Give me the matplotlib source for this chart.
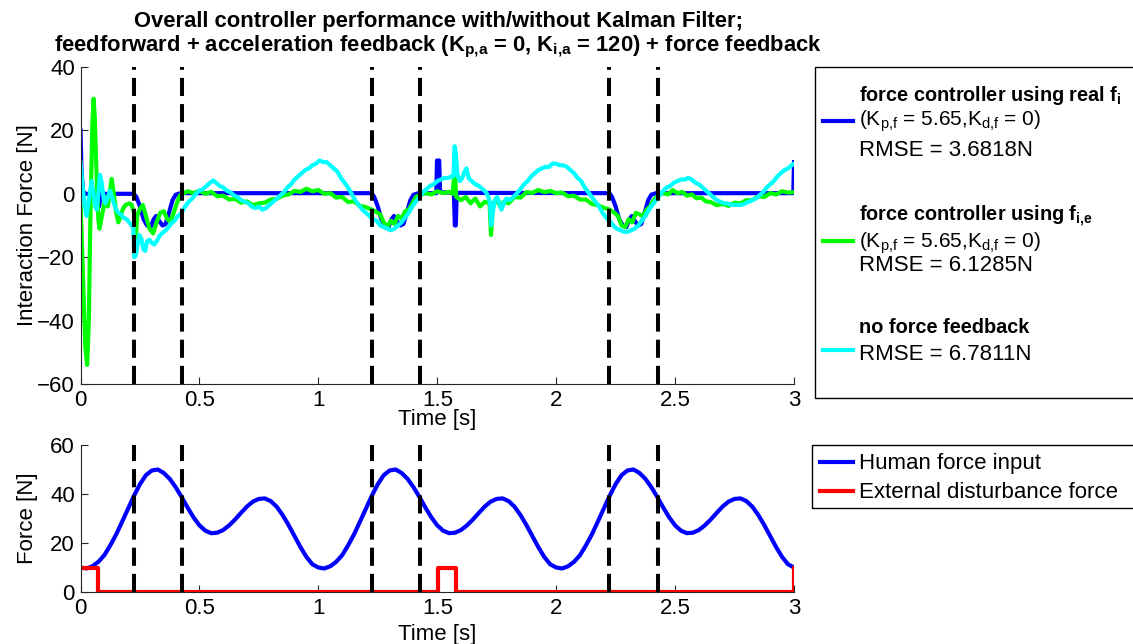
import numpy as np
import matplotlib
matplotlib.use("Agg")
import matplotlib.pyplot as plt
from matplotlib.lines import Line2D
from matplotlib.patches import Rectangle

plt.rcParams['font.family'] = ['Liberation Sans', 'DejaVu Sans']
plt.rcParams['font.size'] = 16
plt.rcParams['mathtext.fontset'] = 'custom'
plt.rcParams['mathtext.rm'] = 'Liberation Sans'
plt.rcParams['mathtext.it'] = 'Liberation Sans:italic'
plt.rcParams['mathtext.bf'] = 'Liberation Sans:bold'

# switching instants (dashed lines)
t_switch = [0.224, 0.427, 1.224, 1.427, 2.224, 2.427]

# interaction force, controller using real f_i  (t, F)
real_fi = np.array([
    (0.0, 20), (0.004, 8), (0.01, 1), (0.02, 0), (0.07, 0), (0.078, -4), (0.086, 0),
    (0.224, 0), (0.235, -1), (0.25, -4), (0.265, -8), (0.28, -10), (0.295, -10.5),
    (0.308, -8), (0.318, -7), (0.33, -8.5), (0.345, -10), (0.358, -9.5), (0.372, -6),
    (0.387, -2), (0.40, -0.3), (0.42, 0.2),
    (1.224, 0.2), (1.235, -1), (1.25, -4), (1.265, -8), (1.28, -10), (1.295, -10.5),
    (1.308, -8), (1.318, -7), (1.33, -8.5), (1.345, -10), (1.358, -9.5), (1.372, -6),
    (1.387, -2), (1.40, -0.3), (1.42, 0.2),
    (1.496, 0.2), (1.499, 10.5), (1.508, 10.5), (1.512, 0.5), (1.57, 0.3),
    (1.574, -10), (1.578, -10), (1.582, 0.3),
    (2.224, 0.2), (2.235, -1), (2.25, -4), (2.265, -8), (2.28, -10), (2.295, -10.5),
    (2.308, -8), (2.318, -7), (2.33, -8.5), (2.345, -10), (2.358, -9.5), (2.372, -6),
    (2.387, -2), (2.40, -0.3), (2.42, 0.2),
    (2.997, 0.2), (3.0, 10),
])

# interaction force, controller using estimated f_i,e
est_fie = np.array([
    (0.0, -2), (0.01, -25), (0.02, -48), (0.028, -54), (0.035, -40), (0.042, -5),
    (0.05, 22), (0.055, 30), (0.06, 24), (0.068, 5), (0.075, -8), (0.08, -11),
    (0.09, -7), (0.105, -1), (0.115, -4), (0.122, 0), (0.131, 4.7), (0.14, 0),
    (0.15, -6), (0.159, -9), (0.17, -6.5), (0.18, -4.5), (0.19, -3.5), (0.205, -3),
    (0.215, -3.5), (0.225, -6), (0.232, -15), (0.238, -7), (0.248, -5), (0.262, -3.5),
    (0.275, -7), (0.29, -11), (0.305, -12.5), (0.32, -9), (0.335, -6), (0.35, -5.5),
    (0.365, -8), (0.378, -9), (0.392, -6), (0.405, -3), (0.418, -0.5),
    (0.45, 0.8), (0.475, 0.2), (0.50, 1.0), (0.525, 0.0), (0.55, 0.6), (0.575, -0.8),
    (0.60, -0.6), (0.625, -1.8), (0.65, -1.6), (0.675, -2.8), (0.70, -2.4),
    (0.725, -3.6), (0.75, -3.0), (0.775, -2.8), (0.80, -1.8), (0.825, -1.6),
    (0.85, -0.6), (0.875, -0.2), (0.90, 0.9), (0.925, 0.6), (0.95, 1.6), (0.975, 0.8),
    (1.00, 1.2), (1.025, 0.0), (1.05, 0.2), (1.075, -1.2), (1.10, -1.0),
    (1.125, -2.6), (1.15, -2.4), (1.175, -3.8), (1.20, -4.2), (1.225, -5.0),
    (1.245, -5.8), (1.26, -6.5), (1.275, -9.0), (1.29, -10.5), (1.305, -8.5),
    (1.32, -9.5), (1.335, -7.0), (1.35, -7.8), (1.365, -5.5), (1.38, -5.0),
    (1.395, -3.0), (1.41, -1.0), (1.425, -0.5), (1.45, 0.3), (1.475, -0.2),
    (1.50, 0.8), (1.525, 0.2), (1.55, 0.6), (1.565, 0.0), (1.573, 8.0), (1.58, -1.0),
    (1.60, -2.0), (1.62, -1.0), (1.64, -3.0), (1.66, -1.5), (1.68, -4.0), (1.70, -2.5),
    (1.72, -3.0), (1.726, -13.0), (1.735, -3.0), (1.75, -2.0), (1.765, -4.0),
    (1.78, -2.5), (1.80, -3.0), (1.825, -1.0), (1.85, -1.2), (1.875, 0.5), (1.90, 0.3),
    (1.925, 1.2), (1.95, 0.5), (1.975, 0.9), (2.00, 0.2), (2.025, 0.4), (2.05, -0.8),
    (2.075, -0.6), (2.10, -1.8), (2.125, -1.8), (2.15, -3.2), (2.175, -3.6),
    (2.20, -4.4), (2.225, -5.0), (2.245, -6.0), (2.26, -7.0), (2.275, -10.0),
    (2.29, -10.5), (2.305, -8.0), (2.32, -9.0), (2.335, -6.0), (2.35, -6.5),
    (2.365, -7.0), (2.38, -5.0), (2.395, -4.0), (2.41, -2.0), (2.43, -0.5), (2.45, 0.3),
    (2.47, -0.2), (2.49, 1.2), (2.51, 0.2), (2.53, 0.6), (2.55, -0.6), (2.57, -0.2),
    (2.59, -1.4), (2.61, -1.2), (2.63, -2.4), (2.65, -2.6), (2.675, -3.6), (2.70, -3.2),
    (2.725, -3.8), (2.75, -2.8), (2.775, -3.0), (2.80, -2.0), (2.825, -2.0),
    (2.85, -0.8), (2.875, -1.0), (2.90, 0.2), (2.925, -0.2), (2.95, 0.8), (2.975, 0.4),
    (3.0, 0.5),
])

# interaction force without force feedback
no_ff = np.array([
    (0.0, 10), (0.008, 3), (0.018, -4), (0.026, -7), (0.035, -2), (0.047, 4),
    (0.055, 0), (0.062, -4), (0.068, -5), (0.075, 0), (0.082, 6), (0.09, 3),
    (0.098, -2), (0.105, -3), (0.115, -1), (0.124, 1), (0.132, -1), (0.14, -3),
    (0.15, -5), (0.159, -6), (0.17, -6.5), (0.18, -7.5), (0.194, -8), (0.205, -9),
    (0.215, -10), (0.222, -10.5), (0.226, -20), (0.232, -19.5), (0.24, -16),
    (0.247, -13), (0.255, -14), (0.265, -17.5), (0.272, -18), (0.28, -15),
    (0.29, -14.5), (0.30, -15.5), (0.31, -16), (0.32, -15), (0.335, -13), (0.35, -12),
    (0.365, -11), (0.38, -9.5), (0.395, -8.5), (0.41, -7), (0.425, -6), (0.44, -4),
    (0.455, -2.5), (0.47, -1.5), (0.485, 0), (0.50, 1), (0.515, 1.5), (0.53, 2.5),
    (0.545, 3.5), (0.558, 4.2), (0.57, 3.5), (0.585, 2.5), (0.60, 2), (0.615, 1),
    (0.63, 0.5), (0.645, -0.5), (0.66, -1), (0.675, -2), (0.69, -2.5), (0.705, -3),
    (0.72, -4), (0.735, -4.5), (0.75, -4), (0.765, -5), (0.78, -4.5), (0.795, -3.5),
    (0.81, -2.5), (0.825, -1.5), (0.84, -0.5), (0.855, 0.5), (0.87, 2), (0.885, 3),
    (0.90, 4.5), (0.915, 5.5), (0.93, 6.5), (0.945, 7.5), (0.96, 8), (0.975, 9),
    (0.99, 9.5), (1.005, 10.5), (1.02, 10), (1.035, 10), (1.05, 9), (1.065, 8),
    (1.08, 7), (1.095, 5), (1.11, 3.5), (1.125, 2), (1.14, 0), (1.155, -2),
    (1.17, -3.5), (1.185, -5), (1.20, -6), (1.215, -7), (1.23, -8), (1.245, -8.5),
    (1.26, -10), (1.275, -10.5), (1.29, -11), (1.305, -11.5), (1.32, -11),
    (1.335, -10), (1.35, -9), (1.365, -7.5), (1.38, -6), (1.395, -4), (1.41, -2.5),
    (1.425, -1), (1.44, 0.5), (1.455, 1.5), (1.47, 2.5), (1.485, 3), (1.50, 4),
    (1.515, 4.5), (1.53, 5), (1.545, 5), (1.56, 5.5), (1.568, 5.5), (1.573, 15),
    (1.578, 13), (1.585, 6), (1.595, 4), (1.605, 5), (1.615, 7), (1.623, 8),
    (1.632, 5), (1.645, 4), (1.66, 3), (1.675, 2.5), (1.69, 1.5), (1.705, 0.5),
    (1.715, -1), (1.722, -3), (1.727, -10), (1.733, -6), (1.742, -2), (1.752, -1),
    (1.762, -3), (1.77, -5), (1.78, -3), (1.791, -1.5), (1.805, -2), (1.82, -1),
    (1.833, 0), (1.85, 1.5), (1.865, 3), (1.88, 4), (1.895, 5.5), (1.91, 6.5),
    (1.925, 7.5), (1.94, 8), (1.955, 8.5), (1.97, 8.5), (1.985, 9.5), (2.0, 9.5),
    (2.015, 9), (2.03, 9), (2.045, 8.5), (2.06, 7.5), (2.075, 6.5), (2.09, 5),
    (2.105, 4), (2.12, 2), (2.135, 0.5), (2.15, -1), (2.165, -2.5), (2.18, -4),
    (2.195, -6), (2.21, -7.5), (2.225, -8.5), (2.24, -10), (2.255, -11),
    (2.27, -11.5), (2.285, -12), (2.30, -12), (2.315, -11.5), (2.33, -11),
    (2.345, -10), (2.36, -8.5), (2.375, -7), (2.39, -5), (2.405, -3.5), (2.42, -2),
    (2.435, -0.5), (2.45, 1), (2.465, 2), (2.48, 2.5), (2.495, 3.5), (2.51, 4),
    (2.525, 4.5), (2.54, 4.5), (2.555, 5), (2.57, 4.5), (2.585, 3.5), (2.60, 3),
    (2.615, 2), (2.63, 1), (2.645, 0), (2.66, -1), (2.675, -2), (2.69, -2.5),
    (2.705, -3), (2.72, -3), (2.735, -3.5), (2.75, -3.5), (2.765, -3.5), (2.78, -3.5),
    (2.795, -3), (2.81, -2.5), (2.825, -2), (2.84, -1.5), (2.855, -0.5), (2.87, 0.5),
    (2.885, 2), (2.90, 3), (2.915, 4), (2.93, 5.5), (2.945, 6.5), (2.96, 7.5),
    (2.975, 8), (2.99, 9), (3.0, 9.5),
])

# human force input, sampled every 0.025 s
t_human = np.arange(121) * 0.025
f_human = [
    10, 9.6, 10.5, 12.3, 15, 19, 23.5, 28.7, 34, 39.3, 44, 47.7, 49.6, 50, 48.6, 46.2,
    42.8, 38.8, 34.5, 30.5, 27.2, 25, 24, 24.2, 25.3, 27.2, 29.6, 32.3, 34.9, 36.9, 38,
    38.2, 37.1, 34.8, 31.4, 27.3, 22.8, 18.3, 14.3, 11.3,
    10, 9.6, 10.5, 12.3, 15, 19, 23.5, 28.7, 34, 39.3, 44, 47.7, 49.6, 50, 48.6, 46.2,
    42.8, 38.8, 34.5, 30.5, 27.2, 25, 24, 24.2, 25.3, 27.2, 29.6, 32.3, 34.9, 36.9, 38,
    38.2, 37.1, 34.8, 31.4, 27.3, 22.8, 18.3, 14.3, 11.3,
    10, 9.6, 10.5, 12.3, 15, 19, 23.5, 28.7, 34, 39.3, 44, 47.7, 49.6, 50, 48.6, 46.2,
    42.8, 38.8, 34.5, 30.5, 27.2, 25, 24, 24.2, 25.3, 27.2, 29.6, 32.3, 34.9, 36.9, 38,
    38.2, 37.1, 34.8, 31.4, 27.3, 22.8, 18.3, 14.3, 11.3,
    10,
]

# external disturbance force (steps)
t_dist = [0.0, 0.072, 0.072, 1.502, 1.502, 1.578, 1.578, 3.0, 3.0]
f_dist = [10, 10, 0, 0, 10, 10, 0, 0, 10]

x_ticks = [0, 0.5, 1, 1.5, 2, 2.5, 3]
x_ticklabels = ['0', '0.5', '1', '1.5', '2', '2.5', '3']

BLUE, GREEN, CYAN, RED = '#0000ff', '#00ff00', '#00ffff', '#ff0000'

W, H = 1133, 644
def fx(x):
    return x / W
def fy(y):
    return 1 - y / H

fig = plt.figure(figsize=(W / 100, H / 100), dpi=100)
ax1 = fig.add_axes([fx(80.5), fy(384), (794 - 80.5) / W, (384 - 67) / H])
ax2 = fig.add_axes([fx(80.5), fy(592), (794 - 80.5) / W, (592 - 445) / H])


def style(ax):
    for s in ['top', 'right']:
        ax.spines[s].set_visible(False)
    for s in ['left', 'bottom']:
        ax.spines[s].set_color('#262626')
        ax.spines[s].set_linewidth(0.8)
    ax.tick_params(direction='in', length=5, width=0.8, color='#262626',
                   labelcolor='black', pad=4)
    ax.set_xlim(0, 3)
    ax.set_xticks(x_ticks)
    ax.set_xticklabels(x_ticklabels)


dash_style = (0, (4.5, 2.0))

# top: interaction force
ax1.plot(real_fi[:, 0], real_fi[:, 1], color=BLUE, lw=3)
ax1.plot(est_fie[:, 0], est_fie[:, 1], color=GREEN, lw=3)
ax1.plot(no_ff[:, 0], no_ff[:, 1], color=CYAN, lw=3)
for t in t_switch:
    ax1.axvline(t, color='black', lw=2.9, ls=dash_style, dash_capstyle='butt')
style(ax1)
ax1.set_ylim(-60, 40)
ax1.set_yticks([-60, -40, -20, 0, 20, 40])
ax1.set_ylabel('Interaction Force [N]')
ax1.yaxis.set_label_coords(-0.06, 0.5)
ax1.set_xlabel('Time [s]')
ax1.xaxis.set_label_coords(0.5, -0.08)

# bottom: input forces
ax2.plot(t_human, f_human, color=BLUE, lw=3)
ax2.plot(t_dist, f_dist, color=RED, lw=3)
for t in t_switch:
    ax2.axvline(t, color='black', lw=2.9, ls=dash_style, dash_capstyle='butt')
style(ax2)
ax2.set_ylim(0, 60)
ax2.set_yticks([0, 20, 40, 60])
ax2.set_ylabel('Force [N]')
ax2.yaxis.set_label_coords(-0.06, 0.5)
ax2.set_xlabel('Time [s]')
ax2.xaxis.set_label_coords(0.5, -0.215)

# title (two separate lines, tight like the original)
fig.text(fx(438), fy(26.5), 'Overall controller performance with/without Kalman Filter;',
         ha='center', va='baseline', fontweight='bold', fontsize=15.8)
fig.text(fx(438), fy(51),
         r'feedforward + acceleration feedback (K$_{\mathbf{p{,}a}}$ = 0, '
         r'K$_{\mathbf{i{,}a}}$ = 120) + force feedback',
         ha='center', va='baseline', fontweight='bold', fontsize=15.8)

# legend 1 (drawn by hand, box runs off the right edge like the original)
fig.add_artist(Rectangle((fx(815), fy(398)), fx(1150) - fx(815), (398 - 67) / H,
                         transform=fig.transFigure, fill=False, ec='black', lw=1))
kp_text = r'(K$_{\mathrm{p{,}f}}$ = 5.65,K$_{\mathrm{d{,}f}}$ = 0)'
leg1 = [
    (BLUE, 121, [(r'force controller using real f$_{\mathbf{i}}$', 101, 'bold', 14.3),
                 (kp_text, 126, 'normal', 15),
                 ('RMSE = 3.6818N', 156, 'normal', 16)]),
    (GREEN, 241, [(r'force controller using f$_{\mathbf{i{,}e}}$', 221, 'bold', 14.3),
                  (kp_text, 248, 'normal', 15),
                  ('RMSE = 6.1285N', 271, 'normal', 16)]),
    (CYAN, 350, [('no force feedback', 333, 'bold', 14.3),
                 ('RMSE = 6.7811N', 360, 'normal', 16)]),
]
for color, yl, lines in leg1:
    fig.add_artist(Line2D([fx(823), fx(853)], [fy(yl), fy(yl)], color=color, lw=3,
                          transform=fig.transFigure))
    for s, yb, wgt, fs in lines:
        fig.text(fx(859), fy(yb), s, ha='left', va='baseline', fontweight=wgt,
                 fontsize=fs)

# legend 2
fig.add_artist(Rectangle((fx(812), fy(508)), fx(1150) - fx(812), (508 - 445) / H,
                         transform=fig.transFigure, fill=False, ec='black', lw=1))
for color, yl, s in [(BLUE, 462, 'Human force input'),
                     (RED, 491, 'External disturbance force')]:
    fig.add_artist(Line2D([fx(820), fx(853)], [fy(yl), fy(yl)], color=color, lw=3,
                          transform=fig.transFigure))
    fig.text(fx(859), fy(yl + 7.5), s, ha='left', va='baseline')

fig.savefig('out.png', dpi=100)
